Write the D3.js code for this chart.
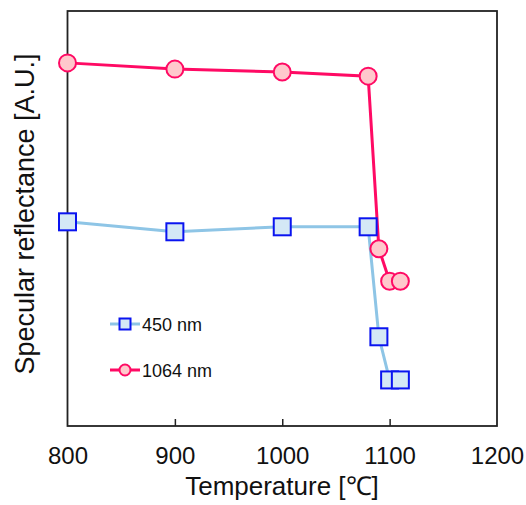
<!DOCTYPE html>
<html><head><meta charset="utf-8">
<script src="https://cdn.jsdelivr.net/npm/d3@7"></script>
<style>body{margin:0;background:#fff}svg{display:block}text{font-family:"Liberation Sans",Arial,sans-serif;fill:#111}</style>
</head><body>
<script>
const temps = [800, 900, 1000, 1080, 1090, 1100, 1110];
const r450 = [49.2, 46.8, 48.0, 48.0, 21.5, 11.1, 11.1];
const r1064 = [87.5, 86.0, 85.3, 84.3, 42.7, 34.9, 34.9];
const xTicks = [800, 900, 1000, 1100, 1200];
const seriesNames = ["450 nm", "1064 nm"];

const W = 526, H = 505;
const m = {l: 67.5, r: 29, t: 11, b: 79};
const svg = d3.select("body").append("svg").attr("width", W).attr("height", H);
const x = d3.scaleLinear().domain([800, 1200]).range([m.l, W - m.r]);
const y = d3.scaleLinear().domain([0, 100]).range([H - m.b, m.t]);

// frame
svg.append("rect").attr("x", x(800)).attr("y", y(100)).attr("width", x(1200) - x(800)).attr("height", y(0) - y(100))
  .attr("fill", "none").attr("stroke", "#222").attr("stroke-width", 1.8);

// x axis with inward ticks
const xa = svg.append("g").attr("transform", `translate(0,${y(0)})`)
  .call(d3.axisBottom(x).tickValues(xTicks).tickSizeInner(-7).tickSizeOuter(0).tickPadding(21).tickFormat(d3.format("d")));
xa.select(".domain").remove();
xa.selectAll(".tick line").attr("stroke", "#222").attr("stroke-width", 1.5);
xa.selectAll(".tick text").style("font-size", "24px").attr("fill", "#111")
  .attr("font-family", "Liberation Sans, Arial, sans-serif");
xa.selectAll(".tick").filter(d => d === 800 || d === 1200).select("line").remove();

svg.append("text").attr("x", 282).attr("y", 495).attr("text-anchor", "middle").style("font-size", "26px").text("Temperature [℃]");
svg.append("text").attr("transform", "translate(34,214) rotate(-90)").attr("text-anchor", "middle")
  .style("font-size", "27px").text("Specular reflectance [A.U.]");

const line = d3.line().x((d, i) => x(temps[i])).y(d => y(d));
const series = [
  {name: seriesNames[0], vals: r450, line: "#8ec5e6", stroke: "#0a14f0", fill: "#d4e8f6", shape: "square"},
  {name: seriesNames[1], vals: r1064, line: "#ff0a64", stroke: "#ff0a64", fill: "#ffc8cc", shape: "circle"}
];

function marker(g, s, cx, cy, size) {
  if (s.shape === "square") {
    g.append("rect").attr("x", cx - size / 2).attr("y", cy - size / 2).attr("width", size).attr("height", size)
      .attr("fill", s.fill).attr("stroke", s.stroke).attr("stroke-width", 2);
  } else {
    g.append("circle").attr("cx", cx).attr("cy", cy).attr("r", size / 2)
      .attr("fill", s.fill).attr("stroke", s.stroke).attr("stroke-width", 2);
  }
}

series.forEach(s => {
  svg.append("path").datum(s.vals).attr("d", line).attr("fill", "none").attr("stroke", s.line).attr("stroke-width", 3);
});
series.forEach(s => {
  const g = svg.append("g");
  s.vals.forEach((v, i) => marker(g, s, x(temps[i]), y(v), 17));
});

// legend
series.forEach((s, i) => {
  const ly = 324 + i * 46;
  const g = svg.append("g");
  g.append("line").attr("x1", 110).attr("x2", 140).attr("y1", ly).attr("y2", ly).attr("stroke", s.line).attr("stroke-width", 3);
  marker(g, s, 125, ly, 11);
  g.append("text").attr("x", 142).attr("y", ly + 6.5).style("font-size", "18px").text(s.name);
});
</script>
</body></html>
